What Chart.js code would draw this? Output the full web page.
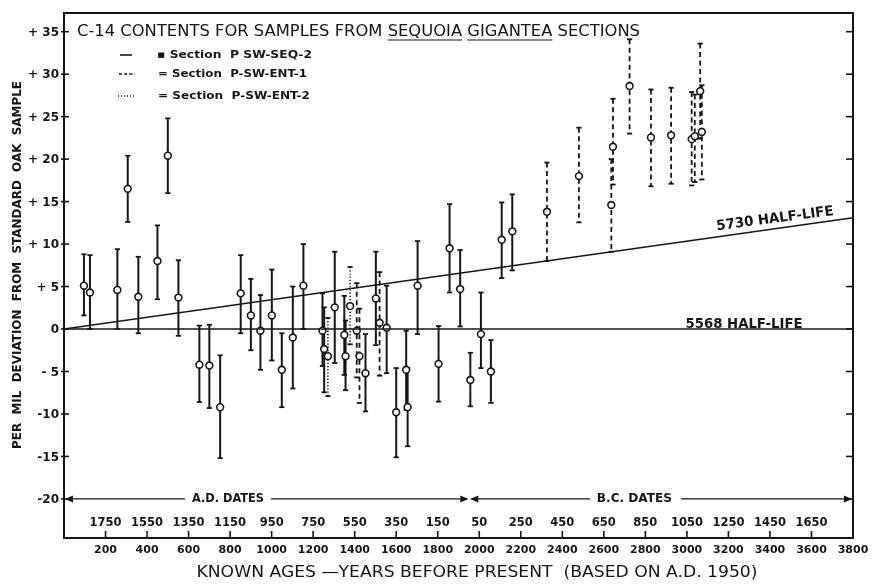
<!DOCTYPE html>
<html>
<head>
<meta charset="utf-8">
<script src="https://cdn.jsdelivr.net/npm/chart.js@4"></script>
<style>
  html, body { margin: 0; padding: 0; background: #fff; }
  #wrap { width: 874px; height: 584px; }
</style>
</head>
<body>
<div id="wrap"><canvas id="myChart" width="874" height="584"></canvas></div>
<script>
// ages in years before present, values in per mil, top/bot = ends of the error bar
const seqAges = [96, 125, 257, 307, 358, 450, 500, 551, 652, 700, 752, 851, 900, 946, 1001, 1049, 1102, 1153,
  1245, 1253, 1304, 1350, 1356, 1452, 1502, 1554, 1600, 1648, 1655, 1703, 1804, 1857, 1908, 1957, 2008, 2056, 2108, 2159];
const seqVals = [5.1, 4.3, 4.6, 16.5, 3.8, 8.0, 20.4, 3.7, -4.2, -4.3, -9.2, 4.2, 1.6, -0.2, 1.6, -4.8, -1.0, 5.1,
  -0.2, -2.35, 2.55, -0.7, -3.2, -5.2, 3.6, 0.15, -9.8, -4.8, -9.2, 5.1, -4.1, 9.5, 4.7, -6.0, -0.6, -5.0, 10.5, 11.5];
const seqTop = [8.8, 8.7, 9.4, 20.4, 8.5, 12.2, 24.8, 8.1, 0.4, 0.5, -3.1, 8.7, 5.9, 4.0, 7.0, -0.5, 5.0, 10.0,
  4.2, 2.55, 9.1, 3.9, 1.0, -0.6, 9.1, 5.1, -4.6, -0.2, -4.6, 10.35, 0.35, 14.7, 9.3, -2.8, 4.3, -1.3, 14.9, 15.85];
const seqBot = [1.6, 0, 0, 12.6, -0.5, 3.5, 16.0, -0.8, -8.6, -9.3, -15.2, -0.5, -2.5, -4.8, -3.7, -9.2, -7.0, 0,
  -4.35, -7.45, -4.0, -5.4, -7.2, -9.7, -1.9, -5.2, -15.1, -9.5, -13.8, -0.6, -8.55, 4.3, 0.3, -9.1, -4.6, -8.7, 6.0, 6.9];

const ent1Ages = [1410, 1423, 1520, 2326, 2480, 2636, 2644, 2724, 2827, 2924, 3023, 3038, 3064, 3072];
const ent1Vals = [-0.2, -3.2, 0.74, 13.8, 18.0, 14.6, 21.45, 28.6, 22.55, 22.8, 22.35, 22.7, 28.0, 23.2];
const ent1Top = [5.4, 2.4, 6.7, 19.6, 23.7, 20.0, 27.1, 34.1, 28.2, 28.4, 27.9, 27.6, 33.6, 28.7];
const ent1Bot = [-5.7, -8.7, -5.5, 8.0, 12.55, 9.1, 17.0, 23.0, 16.8, 17.1, 16.9, 17.3, 22.4, 17.6];

const ent2Ages = [1271, 1378];
const ent2Vals = [-3.2, 2.7];
const ent2Top = [1.3, 7.3];
const ent2Bot = [-7.9, -1.8];

// half-life reference lines
const lineAges = [0, 3800];
const line5568 = [0, 0];
const line5730 = [0, 13.1];

const yTicks = [35, 30, 25, 20, 15, 10, 5, 0, -5, -10, -15, -20];
const yTickLabels = ['+ 35', '+ 30', '+ 25', '+ 20', '+ 15', '+ 10', '+ 5', '0', '- 5', '-10', '-15', '-20'];
const ageTicks = [200, 400, 600, 800, 1000, 1200, 1400, 1600, 1800, 2000, 2200, 2400, 2600, 2800, 3000, 3200, 3400, 3600, 3800];
const dateLabels = ['1750', '1550', '1350', '1150', '950', '750', '550', '350', '150', '50', '250', '450', '650', '850', '1050', '1250', '1450', '1650'];

const ink = '#161616';

function pts(xs, ys) {
  return xs.map((x, i) => ({ x: x, y: ys[i] }));
}

function fitText(ctx, text, x, y, w, font, align) {
  ctx.save();
  ctx.font = font;
  const s = w / ctx.measureText(text).width;
  ctx.translate(x, y);
  ctx.scale(s, 1);
  ctx.textAlign = align || 'left';
  ctx.textBaseline = 'middle';
  ctx.fillText(text, 0, 0);
  ctx.restore();
  return s;
}

function seg(ctx, x1, y1, x2, y2) {
  ctx.beginPath();
  ctx.moveTo(x1, y1);
  ctx.lineTo(x2, y2);
  ctx.stroke();
}

function arrowHead(ctx, tipX, y, dir) {
  ctx.beginPath();
  ctx.moveTo(tipX, y);
  ctx.lineTo(tipX - dir * 8, y - 3.5);
  ctx.lineTo(tipX - dir * 8, y + 3.5);
  ctx.closePath();
  ctx.fill();
}

function drawBars(ctx, xs, ys, ages, tops, bots, dash, lw) {
  ages.forEach((a, i) => {
    const px = xs.getPixelForValue(a);
    const t = ys.getPixelForValue(tops[i]);
    const b = ys.getPixelForValue(bots[i]);
    ctx.setLineDash(dash);
    ctx.lineWidth = lw;
    seg(ctx, px, t, px, b);
    ctx.setLineDash([]);
    ctx.lineWidth = 1.8;
    seg(ctx, px - 2.6, t, px + 2.6, t);
    seg(ctx, px - 2.6, b, px + 2.6, b);
  });
}

const errorBars = {
  id: 'errorBars',
  beforeDatasetsDraw(chart) {
    const ctx = chart.ctx;
    const xs = chart.scales.x, ys = chart.scales.y;
    ctx.save();
    ctx.strokeStyle = ink;
    ctx.lineCap = 'butt';
    drawBars(ctx, xs, ys, seqAges, seqTop, seqBot, [], 2);
    drawBars(ctx, xs, ys, ent1Ages, ent1Top, ent1Bot, [5, 3.5], 1.8);
    drawBars(ctx, xs, ys, ent2Ages, ent2Top, ent2Bot, [1.2, 2], 1.6);
    ctx.restore();
  }
};

const decorations = {
  id: 'decorations',
  afterDraw(chart) {
    const ctx = chart.ctx;
    const xs = chart.scales.x, ys = chart.scales.y;
    const a = chart.chartArea;
    ctx.save();
    ctx.strokeStyle = ink;
    ctx.fillStyle = ink;

    // frame
    ctx.lineWidth = 2;
    ctx.strokeRect(a.left, a.top, a.right - a.left, a.bottom - a.top);

    // y ticks both sides + labels
    ctx.lineWidth = 1.6;
    yTicks.forEach((v, i) => {
      const py = ys.getPixelForValue(v);
      seg(ctx, a.left - 3, py, a.left + 5, py);
      seg(ctx, a.right - 7, py, a.right, py);
      ctx.font = 'bold 12px "DejaVu Sans"';
      ctx.textAlign = 'right';
      ctx.textBaseline = 'middle';
      ctx.fillText(yTickLabels[i], a.left - 5, py + 1);
    });

    // x ticks, age labels under the axis, calendar dates above the ticks
    ageTicks.forEach((v, i) => {
      const px = xs.getPixelForValue(v);
      if (v < 3800) seg(ctx, px, a.bottom - 7, px, a.bottom);
      ctx.font = 'bold 11px "DejaVu Sans"';
      ctx.textAlign = 'center';
      ctx.textBaseline = 'middle';
      ctx.fillText(String(v), px, a.bottom + 12);
      if (dateLabels[i]) {
        ctx.font = 'bold 11.5px "DejaVu Sans"';
        ctx.fillText(dateLabels[i], px, a.bottom - 15);
      }
    });

    // A.D. / B.C. arrow row at -20
    const ry = ys.getPixelForValue(-20);
    const x0 = xs.getPixelForValue(0), xb = xs.getPixelForValue(1952), x1 = xs.getPixelForValue(3800);
    const adX = xs.getPixelForValue(790), bcX = xs.getPixelForValue(2747);
    ctx.lineWidth = 1.3;
    ctx.font = 'bold 12px "DejaVu Sans"';
    const adW = 72, bcW = 75;
    fitText(ctx, 'A.D. DATES', adX, ry, adW, 'bold 12px "DejaVu Sans"', 'center');
    fitText(ctx, 'B.C. DATES', bcX, ry, bcW, 'bold 12px "DejaVu Sans"', 'center');
    seg(ctx, x0 + 2, ry, adX - adW / 2 - 7, ry);
    seg(ctx, adX + adW / 2 + 7, ry, xb - 2, ry);
    seg(ctx, xb + 2, ry, bcX - bcW / 2 - 7, ry);
    seg(ctx, bcX + bcW / 2 + 9, ry, x1 - 2, ry);
    arrowHead(ctx, x0 + 1, ry, -1);
    arrowHead(ctx, xb - 1, ry, 1);
    arrowHead(ctx, xb + 1, ry, -1);
    arrowHead(ctx, x1 - 1, ry, 1);

    // half-life labels
    const ang = Math.atan2(ys.getPixelForValue(line5730[1]) - ys.getPixelForValue(line5730[0]),
      xs.getPixelForValue(lineAges[1]) - xs.getPixelForValue(lineAges[0]));
    ctx.save();
    ctx.translate(775, 219);
    ctx.rotate(ang * 0.92);
    fitText(ctx, '5730 HALF-LIFE', 0, 0, 118, 'bold 14px "DejaVu Sans"', 'center');
    ctx.restore();
    fitText(ctx, '5568 HALF-LIFE', 744, 324, 117, 'bold 14px "DejaVu Sans"', 'center');

    // title with underlined genus / species
    const title = 'C-14 CONTENTS FOR SAMPLES FROM SEQUOIA GIGANTEA SECTIONS';
    const tFont = '15px "DejaVu Sans"';
    const tx = 77, ty = 32;
    const s = fitText(ctx, title, tx, ty, 563, tFont, 'left');
    ctx.font = tFont;
    const w = (t) => ctx.measureText(t).width * s;
    const p1 = w('C-14 CONTENTS FOR SAMPLES FROM ');
    const p2 = w('C-14 CONTENTS FOR SAMPLES FROM SEQUOIA ');
    ctx.lineWidth = 1.2;
    seg(ctx, tx + p1, ty + 8, tx + p1 + w('SEQUOIA'), ty + 8);
    seg(ctx, tx + p2, ty + 8, tx + p2 + w('GIGANTEA'), ty + 8);

    // legend
    const lf = 'bold 11px "DejaVu Sans"';
    ctx.lineWidth = 1.6;
    seg(ctx, 120, 55, 132, 55);
    fitText(ctx, '\u25aa Section  P SW-SEQ-2', 157, 55, 155, lf, 'left');
    ctx.setLineDash([3, 2.2]);
    seg(ctx, 119, 74, 135, 74);
    fitText(ctx, '= Section  P-SW-ENT-1', 158, 74, 149, lf, 'left');
    ctx.setLineDash([1, 2]);
    seg(ctx, 118, 96, 136, 96);
    ctx.setLineDash([]);
    fitText(ctx, '= Section  P-SW-ENT-2', 158, 96, 152, lf, 'left');

    // axis titles
    fitText(ctx, 'KNOWN AGES \u2014YEARS BEFORE PRESENT  (BASED ON A.D. 1950)', 477, 573, 561, '16px "DejaVu Sans"', 'center');
    ctx.save();
    ctx.translate(18, 265);
    ctx.rotate(-Math.PI / 2);
    fitText(ctx, 'PER  MIL  DEVIATION  FROM  STANDARD  OAK  SAMPLE', 0, 0, 368, 'bold 12px "DejaVu Sans"', 'center');
    ctx.restore();

    ctx.restore();
  }
};

const pointStyle = {
  showLine: false,
  pointRadius: 3.4,
  pointBorderWidth: 1.6,
  pointBorderColor: ink,
  pointBackgroundColor: '#fff',
  borderColor: ink,
  backgroundColor: '#fff'
};

new Chart(document.getElementById('myChart'), {
  type: 'scatter',
  data: {
    datasets: [
      { type: 'line', label: '5568 half-life', data: pts(lineAges, line5568), borderColor: ink, borderWidth: 1.6, pointRadius: 0, fill: false },
      { type: 'line', label: '5730 half-life', data: pts(lineAges, line5730), borderColor: ink, borderWidth: 1.6, pointRadius: 0, fill: false },
      Object.assign({ label: 'Section P SW-SEQ-2', data: pts(seqAges, seqVals) }, pointStyle),
      Object.assign({ label: 'Section P-SW-ENT-1', data: pts(ent1Ages, ent1Vals) }, pointStyle),
      Object.assign({ label: 'Section P-SW-ENT-2', data: pts(ent2Ages, ent2Vals) }, pointStyle)
    ]
  },
  options: {
    responsive: false,
    animation: false,
    devicePixelRatio: 1,
    layout: { padding: { left: 64, right: 21, top: 13, bottom: 46 } },
    plugins: { legend: { display: false }, tooltip: { enabled: false } },
    scales: {
      x: { type: 'linear', min: 0, max: 3800, display: false },
      y: { type: 'linear', min: -24.6, max: 37.2, display: false }
    }
  },
  plugins: [errorBars, decorations]
});
</script>
</body>
</html>
